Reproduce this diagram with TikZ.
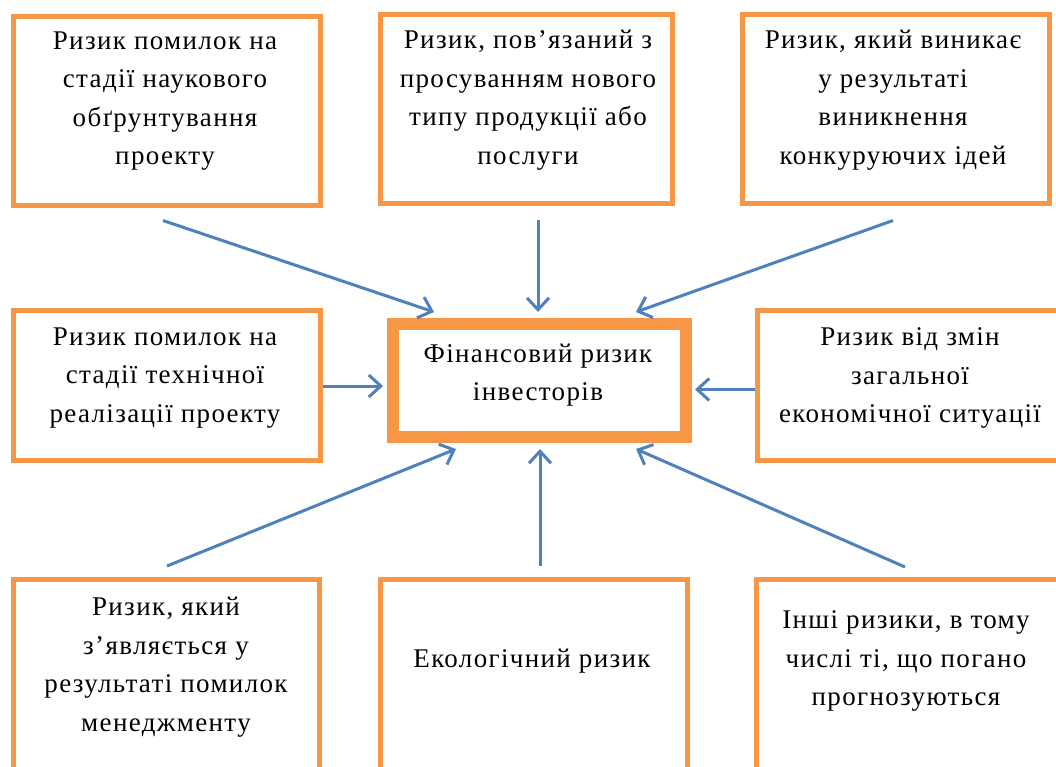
\documentclass[tikz,border=0pt]{standalone}
\usepackage{fontspec}
\setmainfont{Liberation Serif}[LetterSpace=5]
\usetikzlibrary{arrows.meta}
\definecolor{borange}{HTML}{F79646}
\definecolor{ablue}{HTML}{4F81BD}
\tikzset{
  box/.style={draw=borange, line width=5pt, rectangle, inner sep=0pt, fill=white},
  mainbox/.style={draw=borange, line width=12pt, rectangle, inner sep=0pt, fill=white},
  txt/.style={align=center, inner sep=0pt, font=\fontsize{27}{38.5}\selectfont},
  conn/.style={draw=ablue, line width=3pt, -{Straight Barb[length=12pt,width=22pt,line width=3pt]}}
}
\begin{document}
\begin{tikzpicture}[x=1pt,y=-1pt]
\useasboundingbox (0,0) rectangle (1056,767);
\clip (0,0) rectangle (1056,767);
\fill[white] (0,0) rectangle (1056,767);
% boxes
\node[box, minimum width=307pt, minimum height=189pt] (tl) at (167,111) {};
\node[box, minimum width=292pt, minimum height=189pt] (tm) at (526.5,109) {};
\node[box, minimum width=307pt, minimum height=189pt] (tr) at (896,109) {};
\node[box, minimum width=307pt, minimum height=150pt] (ml) at (167,385.5) {};
\node[mainbox, minimum width=293pt, minimum height=113pt] (ctr) at (539.5,380.5) {};
\node[box, minimum width=315pt, minimum height=150pt] (mr) at (915,385.5) {};
\node[box, minimum width=306pt, minimum height=218pt] (bl) at (166.5,688.5) {};
\node[box, minimum width=307pt, minimum height=218pt] (bm) at (534,688.5) {};
\node[box, minimum width=316pt, minimum height=218pt] (br) at (914.5,688.5) {};
% texts
\node[txt] (tlt) at (165,101) {Ризик помилок на\\стадії наукового\\обґрунтування\\проекту};
\node[txt] (tmt) at (528,100) {Ризик, пов’язаний з\\просуванням нового\\типу продукції або\\послуги};
\node[txt] (trt) at (893,100) {Ризик, який виникає\\у результаті\\виникнення\\конкуруючих ідей};
\node[txt] (mlt) at (165,378) {Ризик помилок на\\стадії технічної\\реалізації проекту};
\node[txt] (ctrt) at (538,375) {Фінансовий ризик\\інвесторів};
\node[txt] (mrt) at (910,378) {Ризик від змін\\загальної\\економічної ситуації};
\node[txt] (blt) at (166,667) {Ризик, який\\з’являється у\\результаті помилок\\менеджменту};
\node[txt] (bmt) at (532,661) {Екологічний ризик};
\node[txt] (brt) at (906,661) {Інші ризики, в тому\\числі ті, що погано\\прогнозуються};
% connectors
\draw[conn] ([shift={(-4,12.5)}]tl.south) -- ([shift={(47,-6)}]ctr.north west);
\draw[conn] ([shift={(11.5,14.5)}]tm.south) -- ([shift={(-1.5,-6)}]ctr.north);
\draw[conn] ([shift={(-3,14.5)}]tr.south) -- ([shift={(-56,-6)}]ctr.north east);
\draw[conn] ([shift={(0,0.5)}]ml.east) -- ([shift={(-4,5.5)}]ctr.west);
\draw[conn] ([shift={(0,4)}]mr.west) -- ([shift={(3,9)}]ctr.east);
\draw[conn] ([shift={(0.5,-11)}]bl.north) -- ([shift={(69,6)}]ctr.south west);
\draw[conn] ([shift={(6,-11)}]bm.north) -- ([shift={(0.5,6)}]ctr.south);
\draw[conn] ([shift={(-9.5,-10)}]br.north) -- ([shift={(-56,6)}]ctr.south east);
\end{tikzpicture}
\end{document}
